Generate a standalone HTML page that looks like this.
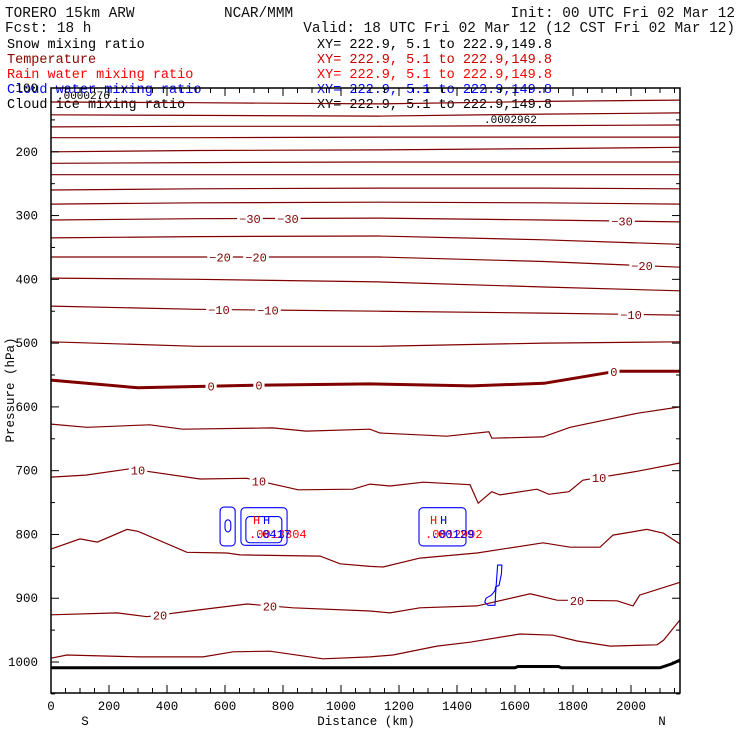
<!DOCTYPE html>
<html><head><meta charset="utf-8">
<style>
body{margin:0;background:#fff;}
svg{display:block;font-family:"Liberation Mono",monospace;}
</style></head>
<body>
<svg id="chart" width="740" height="740" viewBox="0 0 740 740">
<rect width="740" height="740" fill="#fff"/>
<g font-size="14.4" fill="#111">
<text x="5" y="17">TORERO  15km ARW</text>
<text x="224" y="17">NCAR/MMM</text>
<text x="735" y="17" text-anchor="end">Init: 00 UTC Fri 02 Mar 12</text>
<text x="5" y="32">Fcst:   18 h</text>
<text x="735" y="32" text-anchor="end">Valid: 18 UTC Fri 02 Mar 12 (12 CST Fri 02 Mar 12)</text>
</g>
<g font-size="13.5">
<text x="7" y="48" fill="#000">Snow mixing ratio</text>
<text x="317" y="48" fill="#000">XY= 222.9,  5.1 to 222.9,149.8</text>
<text x="7" y="63" fill="#8b0000">Temperature</text>
<text x="317" y="63" fill="#cc0000">XY= 222.9,  5.1 to 222.9,149.8</text>
<text x="7" y="78" fill="#ff0000">Rain water mixing ratio</text>
<text x="317" y="78" fill="#ff0000">XY= 222.9,  5.1 to 222.9,149.8</text>
<text x="7" y="93" fill="#0000ff">Cloud water mixing ratio</text>
<text x="317" y="93" fill="#0000ff">XY= 222.9,  5.1 to 222.9,149.8</text>
<text x="7" y="108" fill="#000">Cloud ice mixing ratio</text>
<text x="317" y="108" fill="#000">XY= 222.9,  5.1 to 222.9,149.8</text>
</g>
<g id="plot"></g>
<g id="axes"></g>
<text x="14" y="390" font-size="12.5" text-anchor="middle" transform="rotate(-90 14 390)">Pressure (hPa)</text>
<text x="366" y="725" font-size="12.5" text-anchor="middle">Distance (km)</text>
<text x="85" y="725" font-size="12.5" text-anchor="middle">S</text>
<text x="662" y="725" font-size="12.5" text-anchor="middle">N</text>
</svg>
<script>
// ---- data ----
const upperDist = [0, 500, 1130, 1700, 2169];
const upperTemps = [-75,-70,-65,-60,-55,-50,-45,-40,-35,-30,-25,-20,-15,-10,-5];
const upperPres = [
 [122,123,125,121,119],[142,143,144,141,139],[161,160,160,159,158],[178,178,177,177,177],
 [200,198,197,195,193],[218,217,216,216,216],[236,236,236,236,236],[260,258,257,257,258],
 [282,280,279,280,282],[307,305,304,307,310],[335,333,332,338,345],[365,365,365,372,381],
 [398,400,404,412,418],[442,447,450,453,456],[498,505,505,500,498]];
const t0Dist = [0,300,700,1100,1450,1700,1950,2169];
const t0Pres = [558,570,566,564,567,563,544,544];
const t5Dist = [0,124,341,454,764,880,1100,1134,1365,1510,1520,1697,1790,2021,2169];
const t5Pres = [627,632,628,635,633,638,635,641,646,639,649,647,632,610,600];
const t10Dist = [0,120,272,514,675,824,852,1041,1100,1169,1284,1445,1473,1520,1548,1676,1717,1786,1834,2021,2169];
const t10Pres = [710,707,697,713,712,727,730,729,721,724,718,722,751,733,738,729,737,733,715,701,688];
const t15Dist = [0,100,160,262,300,469,607,652,928,997,1100,1145,1272,1469,1697,1790,1893,1938,2055,2112,2169];
const t15Pres = [823,807,812,792,795,828,829,832,834,846,850,851,837,829,813,820,820,801,792,798,815];
const t20Dist = [0,228,331,479,676,834,1100,1169,1272,1469,1652,1745,1952,2007,2030,2169];
const t20Pres = [926,923,929,920,909,915,920,923,915,912,893,903,904,912,895,875];
const t25Dist = [0,55,307,524,628,755,938,1100,1179,1331,1445,1617,1731,1814,1928,2090,2112,2169];
const t25Pres = [994,989,992,992,984,983,995,992,989,975,969,956,958,967,975,973,966,934];
const sfcDist = [0,1600,1610,1750,1760,2100,2140,2169];
const sfcPres = [1009,1009,1007,1007,1009,1009,1003,997];
const labelTemps = [-30,-30,-30,-20,-20,-20,-10,-10,-10,0,0,0,10,10,10,20,20,20];
const labelDist = [686,817,1969,583,707,2038,579,748,2000,552,717,1941,300,717,1890,376,755,1814];
const cwBox1D = [583,635,635,583];  const cwBox1P = [757,757,818,818];
const cwOvalD = [600,620,620,600];  const cwOvalP = [777,777,796,796];
const cwBox2D = [655,814,814,655];  const cwBox2P = [758,758,817,817];
const cwIn2D = [672,796,796,672];   const cwIn2P = [772,772,813,813];
const cwBox3D = [1269,1431,1431,1269]; const cwBox3P = [758,758,818,818];
const cwBlobD = [1540,1555,1553,1545,1533,1531,1519,1500,1496,1507,1531,1533];
const cwBlobP = [848,848,862,880,882,888,895,900,906,911,911,893];
const yTicks = [100,200,300,400,500,600,700,800,900,1000];
const xTicks = [0,200,400,600,800,1000,1200,1400,1600,1800,2000];

// ---- scales ----
const X = d => 51 + d*0.29;
const Y = p => 88 + (p-100)*0.6378;
const NS = "http://www.w3.org/2000/svg";
const plot = document.getElementById('plot');
const axes = document.getElementById('axes');
function mk(tag, attrs, parent){const e=document.createElementNS(NS,tag);for(const k in attrs)e.setAttribute(k,attrs[k]);parent.appendChild(e);return e;}
function pts(ds,ps){return ds.map((d,i)=>X(d).toFixed(1)+','+Y(ps[i]).toFixed(1)).join(' ');}
function interp(ds,ps,d){for(let i=0;i<ds.length-1;i++){if(d>=ds[i]&&d<=ds[i+1]){const t=(d-ds[i])/(ds[i+1]-ds[i]);return ps[i]+t*(ps[i+1]-ps[i]);}}return ps[ps.length-1];}

const lines = {};
upperTemps.forEach((t,i)=>{lines[t]=[upperDist,upperPres[i]];});
lines[0]=[t0Dist,t0Pres]; lines[5]=[t5Dist,t5Pres]; lines[10]=[t10Dist,t10Pres];
lines[15]=[t15Dist,t15Pres]; lines[20]=[t20Dist,t20Pres]; lines[25]=[t25Dist,t25Pres];

for(const t in lines){
  const l = mk('polyline',{points:pts(lines[t][0],lines[t][1]),fill:'none',stroke:'#800000','stroke-width':(+t===0?3:1.2)},plot);
  
  
}
const sfc = mk('polyline',{points:pts(sfcDist,sfcPres),fill:'none',stroke:'#000','stroke-width':3},plot);



labelTemps.forEach((t,i)=>{
  const d=labelDist[i]; const L=lines[t]; const y=Y(interp(L[0],L[1],d)); const x=X(d);
  const s=String(t).replace('-','\u2212'); const w=s.length*7.2+4;
  const r=mk('rect',{x:x-w/2,y:y-6,width:w,height:12,fill:'#fff'},plot);
  
  
  const tx=mk('text',{x:x,y:y+4.5,'text-anchor':'middle','font-size':12,fill:'#800000'},plot);
  tx.textContent=s;
  
  
});

[[cwBox1D,cwBox1P,4],[cwOvalD,cwOvalP,4],[cwBox2D,cwBox2P,4],[cwIn2D,cwIn2P,4],[cwBox3D,cwBox3P,4]].forEach(([ds,ps,rr])=>{
  const x1=X(ds[0]),x2=X(ds[1]),y1=Y(ps[0]),y2=Y(ps[2]);
  const r=mk('rect',{x:x1,y:y1,width:x2-x1,height:y2-y1,rx:rr,fill:'none',stroke:'#0000ff','stroke-width':1.1},plot);
  
  
});
const blob=mk('polygon',{points:pts(cwBlobD,cwBlobP),fill:'none',stroke:'#0000ff','stroke-width':1.1},plot);



const annots=[[253,524,'H','#ff0000'],[263,524,'H','#0000ff'],[249,538,'.0013304','#ff0000'],[255,538,'.0417','#0000ff'],
 [430,524,'H','#ff0000'],[440,524,'H','#0000ff'],[425,538,'.0012992','#ff0000'],[431,538,'.00129','#0000ff']];
annots.forEach(a=>{
  const t=mk('text',{x:a[0],y:a[1],'font-size':12,fill:a[3]},plot);
  t.textContent=a[2];
  
  
});
[[57,99,'.0000276'],[484,123,'.0002962']].forEach(a=>{
  const t=mk('text',{x:a[0],y:a[1],'font-size':11,fill:'#000'},plot);
  t.textContent=a[2];
  
  
});

const frame=mk('rect',{x:51,y:88,width:629,height:605,fill:'none',stroke:'#000','stroke-width':1.5},axes);


for(let p=100;p<=1050;p+=50){
  const y=Y(p); const len=(p%100===0)?8:4;
  mk('line',{x1:51,y1:y,x2:51+len,y2:y,stroke:'#000'},axes);
  mk('line',{x1:680,y1:y,x2:680-len,y2:y,stroke:'#000'},axes);
}
for(let d=0;d<=2150;d+=50){
  const x=X(d); const len=(d%200===0)?8:5;
  mk('line',{x1:x,y1:693,x2:x,y2:693-len,stroke:'#000'},axes);
  mk('line',{x1:x,y1:88,x2:x,y2:88+len,stroke:'#000'},axes);
}
yTicks.forEach(p=>{
  const t=mk('text',{x:38,y:Y(p)+4,'text-anchor':'end','font-size':12.5},axes);
  t.textContent=p;
  
  
});
xTicks.forEach(d=>{
  const t=mk('text',{x:X(d),y:710,'text-anchor':'middle','font-size':12.5},axes);
  t.textContent=d;
  
  
});
</script>
</body></html>
